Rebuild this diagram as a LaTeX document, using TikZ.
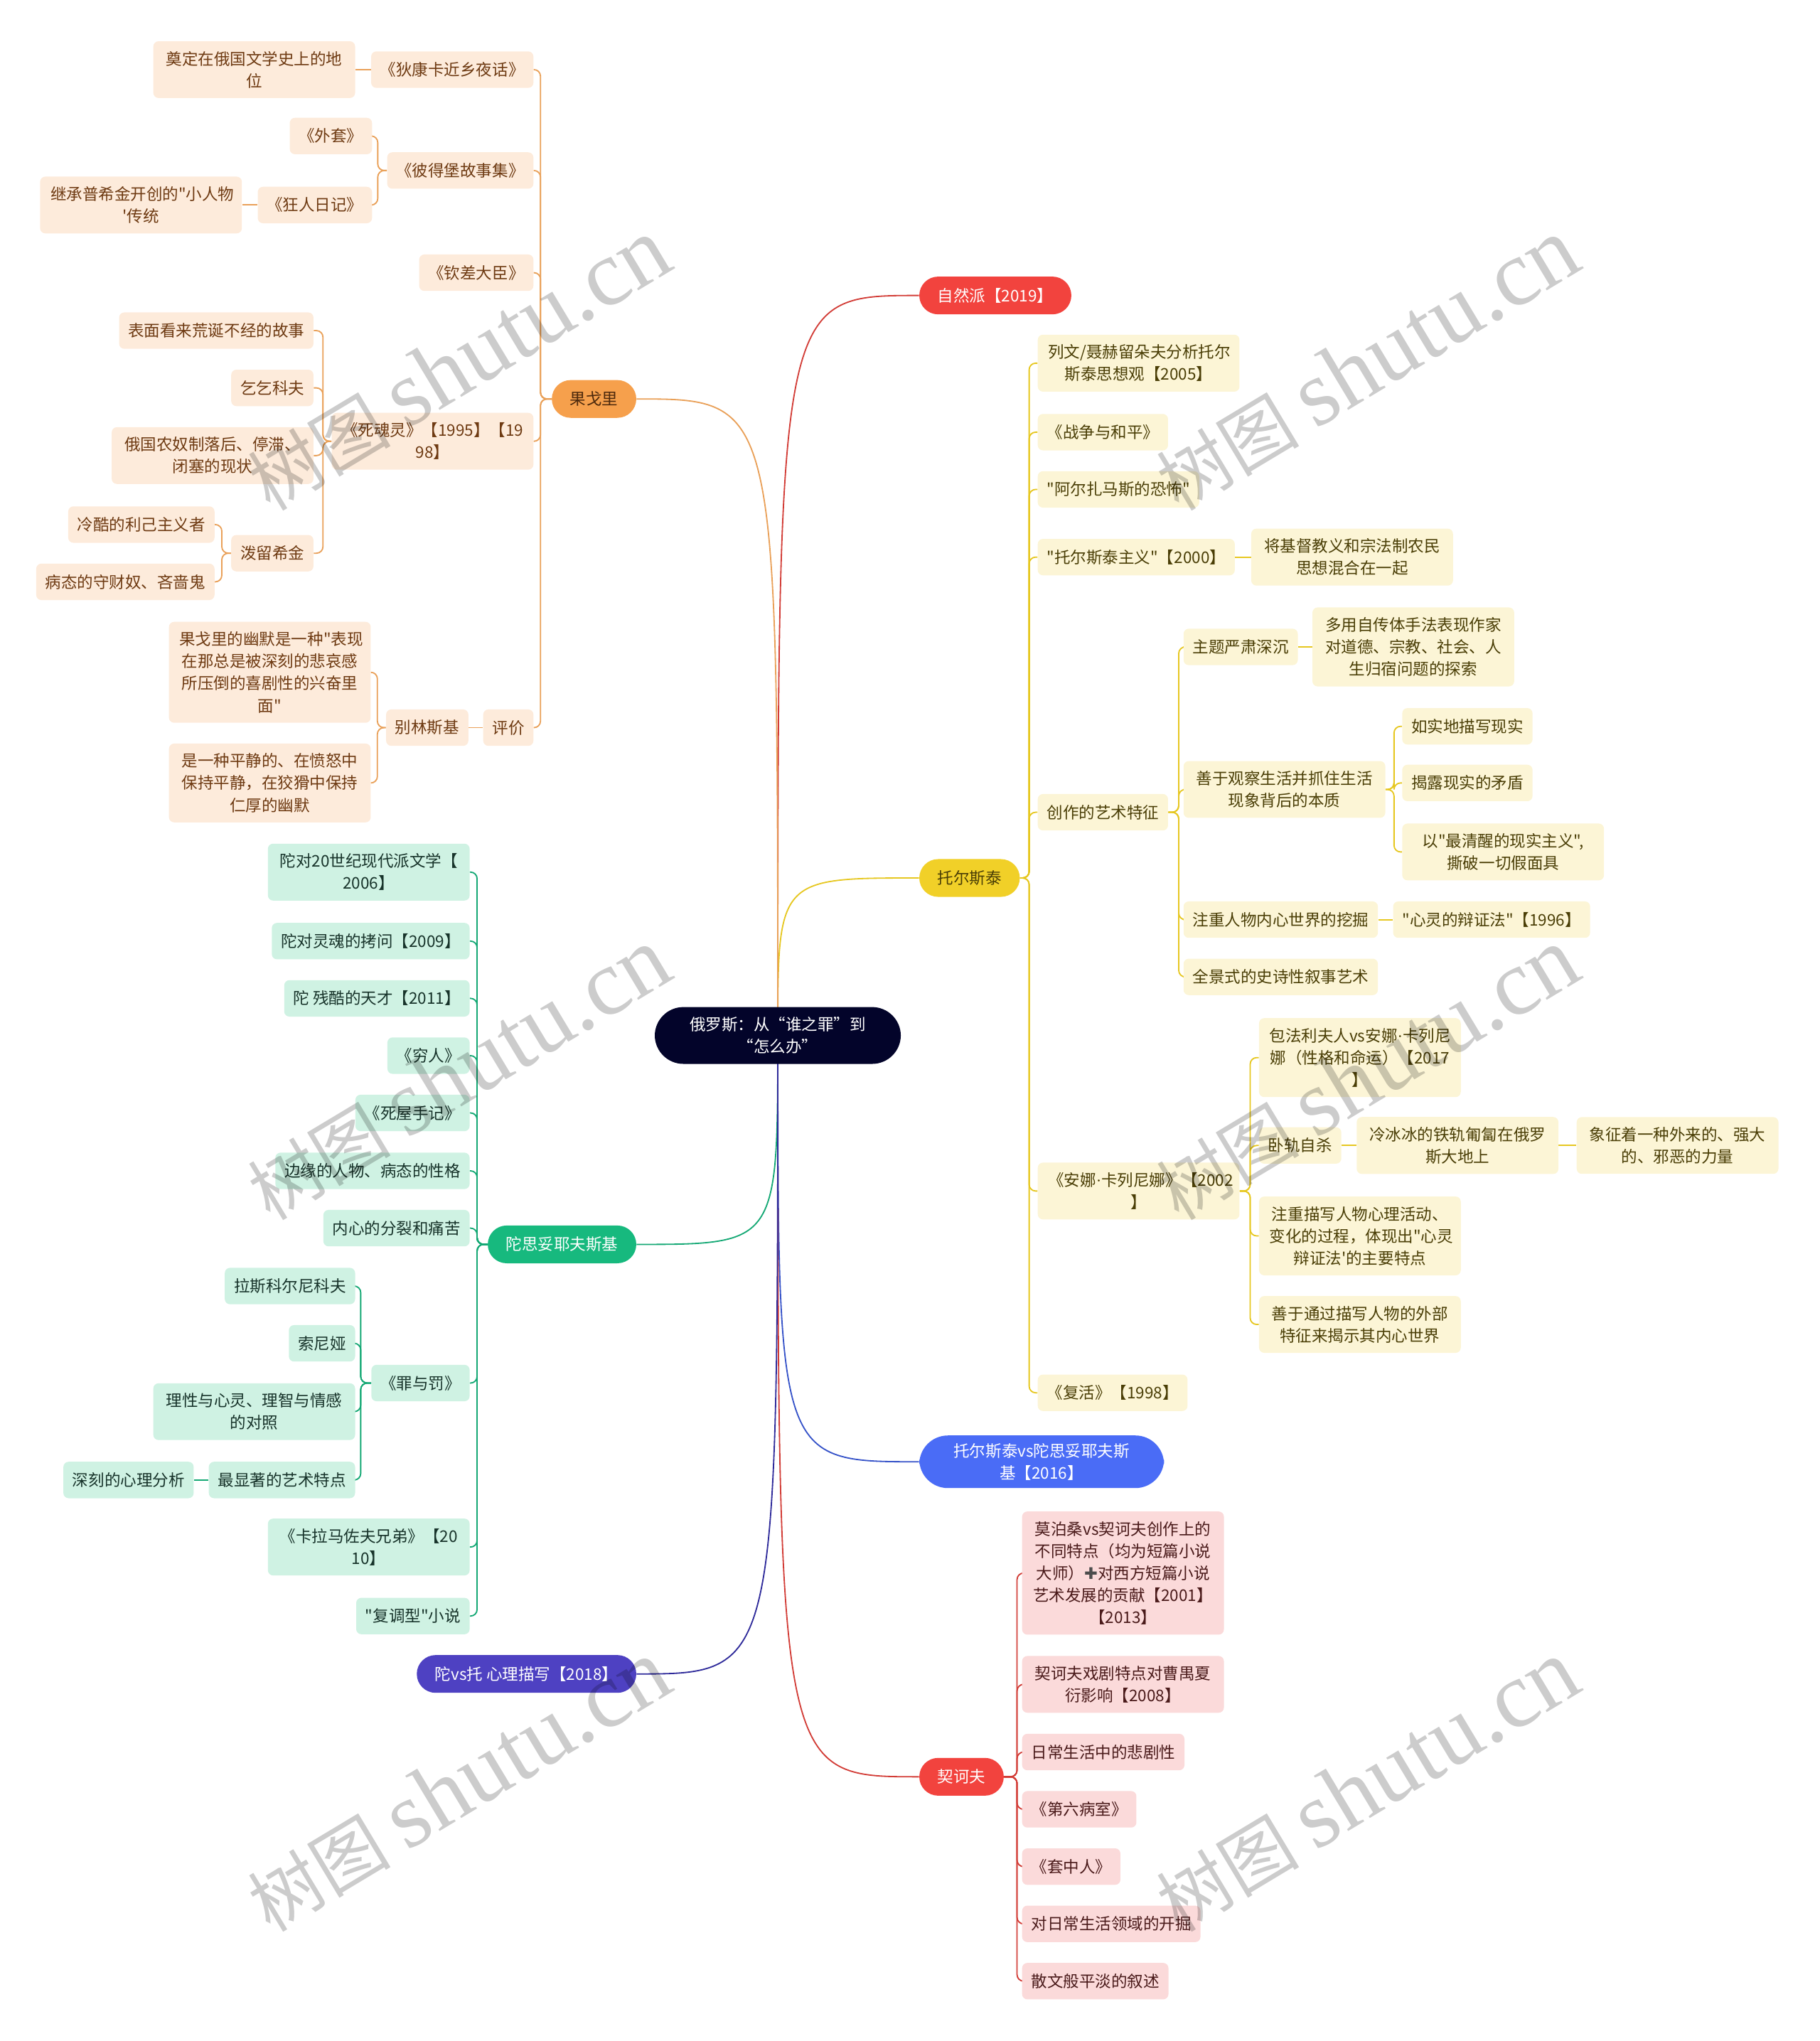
\documentclass[tikz,border=0pt]{standalone}
\usepackage{fontspec}
\usepackage{xcolor}
\usepackage{tikz}
\newfontfamily\cjk{Noto Sans CJK SC}[Ligatures=TeXOff]
\newfontfamily\wmser{Liberation Serif}
\newfontfamily\dejavu{DejaVu Sans}

\definecolor{rootc}{HTML}{03042A}
\definecolor{redp}{HTML}{F2433E}
\definecolor{yelp}{HTML}{F1D028}
\definecolor{bluep}{HTML}{4A6CF6}
\definecolor{orap}{HTML}{F6A04C}
\definecolor{grnp}{HTML}{17B97E}
\definecolor{purp}{HTML}{4E41C2}
\definecolor{orafill}{HTML}{FDEBDB}
\definecolor{grnfill}{HTML}{CFF2E3}
\definecolor{yelfill}{HTML}{FCF5D6}
\definecolor{redfill}{HTML}{FBDADA}
\definecolor{oraline}{HTML}{E9A058}
\definecolor{grnline}{HTML}{14A874}
\definecolor{yelline}{HTML}{E6C720}
\definecolor{redline}{HTML}{D23C36}
\definecolor{blueline}{HTML}{3552C8}
\definecolor{purline}{HTML}{2E2A9A}
\definecolor{oratext}{HTML}{6E3A12}
\definecolor{grntext}{HTML}{17332A}
\definecolor{yeltext}{HTML}{4A3E06}
\definecolor{redtext}{HTML}{4A1A1A}

\pgfdeclarelayer{bg}
\pgfsetlayers{bg,main}

\begin{document}
\begin{tikzpicture}[x=1pt,y=-1pt,
  every node/.style={font=\cjk\fontsize{12.3pt}{17pt}\selectfont},
  pill/.style={rounded corners=14.5pt,minimum height=29pt,inner xsep=14pt,inner ysep=6pt},
  leaf/.style={rounded corners=4pt,minimum height=28pt,inner xsep=7pt,inner ysep=7.6pt,align=center},
  wrap/.style={leaf,text width=139pt,inner xsep=8pt},
  gog/.style={fill=orafill,text=oratext},
  dos/.style={fill=grnfill,text=grntext},
  tol/.style={fill=yelfill,text=yeltext},
  che/.style={fill=redfill,text=redtext},
  ln/.style={line width=1pt,rounded corners=5pt},
  wm/.style={rotate=31,text=black,text opacity=0.2,font=\cjk\fontsize{55pt}{60pt}\selectfont}]
\useasboundingbox (0,0) rectangle (1398,1568);

% centre and main branches
\node[fill=rootc,text=white,rounded corners=22pt,text width=137pt,align=center,inner xsep=26pt,inner ysep=7.6pt] (root) at (597.5,795.5) {俄罗斯：从“谁之罪”到\\“怎么办”};
\node[pill,fill=redp,text=white,anchor=west] (natur) at (706,227) {自然派【2019】};
\node[pill,fill=yelp,text=yeltext,anchor=west] (tolst) at (706,674.5) {托尔斯泰};
\node[pill,fill=bluep,text=white,anchor=west,rounded corners=22pt,text width=137pt,align=center,inner xsep=25.5pt] (tvd) at (706,1123) {托尔斯泰vs陀思妥耶夫斯\\基【2016】};
\node[pill,fill=redp,text=white,anchor=west] (chekh) at (706,1365) {契诃夫};
\node[pill,fill=orap,text=oratext!70!black,anchor=east] (gogol) at (489,306.5) {果戈里};
\node[pill,fill=grnp,text=white,anchor=east] (dost) at (489,956) {陀思妥耶夫斯基};
\node[pill,fill=purp,text=white,anchor=east] (dvt) at (489,1286) {陀vs托 心理描写【2018】};

% Gogol
\node[leaf,gog,anchor=east] (dikan) at (410,53.5) {《狄康卡近乡夜话》};
\node[wrap,gog,anchor=east] (dianding) at (273,53.5) {奠定在俄国文学史上的地\\位};
\node[leaf,gog,anchor=east] (peter) at (410,131) {《彼得堡故事集》};
\node[leaf,gog,anchor=east] (waitao) at (286,104.5) {《外套》};
\node[leaf,gog,anchor=east] (kuangren) at (286,157.5) {《狂人日记》};
\node[wrap,gog,anchor=east] (jicheng) at (186,157.5) {继承普希金开创的"小人物\\'传统};
\node[leaf,gog,anchor=east] (qinchai) at (410,209.5) {《钦差大臣》};
\node[wrap,gog,anchor=east] (sihun) at (410,339) {《死魂灵》【1995】【19\\98】};
\node[leaf,gog,anchor=east] (biaomian) at (241,254) {表面看来荒诞不经的故事};
\node[leaf,gog,anchor=east] (qiqi) at (241,298) {乞乞科夫};
\node[wrap,gog,anchor=east] (nongnu) at (241,350) {俄国农奴制落后、停滞、\\闭塞的现状};
\node[leaf,gog,anchor=east] (polu) at (241,425) {泼留希金};
\node[leaf,gog,anchor=east] (lengku) at (165,403) {冷酷的利己主义者};
\node[leaf,gog,anchor=east] (bingtai) at (165,447) {病态的守财奴、吝啬鬼};
\node[leaf,gog,anchor=east] (pingjia) at (410,559) {评价};
\node[leaf,gog,anchor=east] (belinsky) at (360,559) {别林斯基};
\node[wrap,gog,anchor=east] (humor1) at (285,516.5) {果戈里的幽默是一种"表现\\在那总是被深刻的悲哀感\\所压倒的喜剧性的兴奋里\\面"};
\node[wrap,gog,anchor=east] (humor2) at (285,601.5) {是一种平静的、在愤怒中\\保持平静，在狡猾中保持\\仁厚的幽默};

% Dostoevsky
\node[wrap,dos,anchor=east] (d20) at (361,670) {陀对20世纪现代派文学【\\2006】};
\node[leaf,dos,anchor=east] (dlinghun) at (361,723) {陀对灵魂的拷问【2009】};
\node[leaf,dos,anchor=east] (dcanku) at (361,767) {陀 残酷的天才【2011】};
\node[leaf,dos,anchor=east] (qiongren) at (361,811) {《穷人》};
\node[leaf,dos,anchor=east] (siwu) at (361,855) {《死屋手记》};
\node[leaf,dos,anchor=east] (bianyuan) at (361,899.5) {边缘的人物、病态的性格};
\node[leaf,dos,anchor=east] (neixin) at (361,943.5) {内心的分裂和痛苦};
\node[leaf,dos,anchor=east] (zuifa) at (361,1062.5) {《罪与罚》};
\node[leaf,dos,anchor=east] (lasi) at (273,988) {拉斯科尔尼科夫};
\node[leaf,dos,anchor=east] (suoni) at (273,1032) {索尼娅};
\node[wrap,dos,anchor=east] (lixing) at (273,1084.5) {理性与心灵、理智与情感\\的对照};
\node[leaf,dos,anchor=east] (xianzhu) at (273,1137) {最显著的艺术特点};
\node[leaf,dos,anchor=east] (shenke) at (149,1137) {深刻的心理分析};
\node[wrap,dos,anchor=east] (karama) at (361,1188.5) {《卡拉马佐夫兄弟》【20\\10】};
\node[leaf,dos,anchor=east] (fudiao) at (361,1241.5) {"复调型"小说};

% Tolstoy
\node[wrap,tol,anchor=west] (liewen) at (797,279) {列文/聂赫留朵夫分析托尔\\斯泰思想观【2005】};
\node[leaf,tol,anchor=west] (zhanzheng) at (797,332) {《战争与和平》};
\node[leaf,tol,anchor=west] (azhama) at (797,376) {"阿尔扎马斯的恐怖"};
\node[leaf,tol,anchor=west] (tzhuyi) at (797,428) {"托尔斯泰主义"【2000】};
\node[wrap,tol,anchor=west] (jidu) at (961,428) {将基督教义和宗法制农民\\思想混合在一起};
\node[leaf,tol,anchor=west] (yishu) at (797,624) {创作的艺术特征};
\node[leaf,tol,anchor=west] (zhuti) at (909,497) {主题严肃深沉};
\node[wrap,tol,anchor=west] (duoyong) at (1008,497) {多用自传体手法表现作家\\对道德、宗教、社会、人\\生归宿问题的探索};
\node[wrap,tol,anchor=west] (shanyu) at (909,606.5) {善于观察生活并抓住生活\\现象背后的本质};
\node[leaf,tol,anchor=west] (rushi) at (1077,558) {如实地描写现实};
\node[leaf,tol,anchor=west] (jielu) at (1077,601.5) {揭露现实的矛盾};
\node[wrap,tol,anchor=west] (yizui) at (1077,654.5) {以"最清醒的现实主义",\\撕破一切假面具};
\node[leaf,tol,anchor=west] (zhuzhong) at (909,706.5) {注重人物内心世界的挖掘};
\node[leaf,tol,anchor=west] (xinling) at (1070,706.5) {"心灵的辩证法"【1996】};
\node[leaf,tol,anchor=west] (quanjing) at (909,750.5) {全景式的史诗性叙事艺术};
\node[wrap,tol,anchor=west] (anna) at (797,915) {《安娜{\wmser·}卡列尼娜》【2002\\】};
\node[wrap,tol,anchor=west] (baofa) at (967,812.5) {包法利夫人vs安娜{\wmser·}卡列尼\\娜（性格和命运）【2017\\】};
\node[leaf,tol,anchor=west] (woqui) at (967,880) {卧轨自杀};
\node[wrap,tol,anchor=west] (lengbing) at (1042,880) {冷冰冰的铁轨匍匐在俄罗\\斯大地上};
\node[wrap,tol,anchor=west] (xiangzheng) at (1211,880) {象征着一种外来的、强大\\的、邪恶的力量};
\node[wrap,tol,anchor=west] (zhuzhongmx) at (967,949.5) {注重描写人物心理活动、\\变化的过程，体现出"心灵\\辩证法'的主要特点};
\node[wrap,tol,anchor=west] (shanyutong) at (967,1017.5) {善于通过描写人物的外部\\特征来揭示其内心世界};
\node[leaf,tol,anchor=west] (fuhuo) at (797,1070) {《复活》【1998】};

% Chekhov
\node[wrap,che,anchor=west] (mobo) at (785,1208.5) {莫泊桑vs契诃夫创作上的\\不同特点（均为短篇小说\\大师）{\dejavu\textcolor{gray!60!black}{✚}}对西方短篇小说\\艺术发展的贡献【2001】\\【2013】};
\node[wrap,che,anchor=west] (xiju) at (785,1294) {契诃夫戏剧特点对曹禺夏\\衍影响【2008】};
\node[leaf,che,anchor=west] (richang) at (785,1346) {日常生活中的悲剧性};
\node[leaf,che,anchor=west] (diliu) at (785,1390) {《第六病室》};
\node[leaf,che,anchor=west] (taozhong) at (785,1434) {《套中人》};
\node[leaf,che,anchor=west] (kaijue) at (785,1478) {对日常生活领域的开掘};
\node[leaf,che,anchor=west] (sanwen) at (785,1522) {散文般平淡的叙述};

\begin{pgfonlayer}{bg}
% curves from the centre
\draw[line width=1pt,redline] (root.center) .. controls (root.center |- natur.west) .. (natur.west);
\draw[line width=1pt,yelline] (root.center) .. controls (root.center |- tolst.west) .. (tolst.west);
\draw[line width=1pt,blueline] (root.center) .. controls (root.center |- tvd.west) .. (tvd.west);
\draw[line width=1pt,redline] (root.center) .. controls (root.center |- chekh.west) .. (chekh.west);
\draw[line width=1pt,oraline] (root.center) .. controls (root.center |- gogol.east) .. (gogol.east);
\draw[line width=1pt,grnline] (root.center) .. controls (root.center |- dost.east) .. (dost.east);
\draw[line width=1pt,purline] (root.center) .. controls (root.center |- dvt.east) .. (dvt.east);

% Gogol
\foreach \c in {dikan,peter,qinchai,sihun,pingjia}
  \draw[ln,oraline] (gogol.west) -- ++(-8.5,0) |- (\c.east);
\draw[ln,oraline] (dikan.west) -- (dianding.east);
\foreach \c in {waitao,kuangren}
  \draw[ln,oraline] (peter.west) -- ++(-7,0) |- (\c.east);
\draw[ln,oraline] (kuangren.west) -- (jicheng.east);
\foreach \c in {biaomian,qiqi,nongnu,polu}
  \draw[ln,oraline] (sihun.west) -- ++(-6.5,0) |- (\c.east);
\foreach \c in {lengku,bingtai}
  \draw[ln,oraline] (polu.west) -- ++(-7,0) |- (\c.east);
\draw[ln,oraline] (pingjia.west) -- (belinsky.east);
\foreach \c in {humor1,humor2}
  \draw[ln,oraline] (belinsky.west) -- ++(-6.5,0) |- (\c.east);

% Dostoevsky
\foreach \c in {d20,dlinghun,dcanku,qiongren,siwu,bianyuan,neixin,zuifa,karama,fudiao}
  \draw[ln,grnline] (dost.west) -- ++(-8,0) |- (\c.east);
\foreach \c in {lasi,suoni,lixing,xianzhu}
  \draw[ln,grnline] (zuifa.west) -- ++(-8,0) |- (\c.east);
\draw[ln,grnline] (xianzhu.west) -- (shenke.east);

% Tolstoy
\foreach \c in {liewen,zhanzheng,azhama,tzhuyi,yishu,anna,fuhuo}
  \draw[ln,yelline] (tolst.east) -- ++(7,0) |- (\c.west);
\draw[ln,yelline] (tzhuyi.east) -- (jidu.west);
\foreach \c in {zhuti,shanyu,zhuzhong,quanjing}
  \draw[ln,yelline] (yishu.east) -- ++(8,0) |- (\c.west);
\draw[ln,yelline] (zhuti.east) -- (duoyong.west);
\foreach \c in {rushi,jielu,yizui}
  \draw[ln,yelline] (shanyu.east) -- ++(6.5,0) |- (\c.west);
\draw[ln,yelline] (zhuzhong.east) -- (xinling.west);
\foreach \c in {baofa,woqui,zhuzhongmx,shanyutong}
  \draw[ln,yelline] (anna.east) -- ++(8,0) |- (\c.west);
\draw[ln,yelline] (woqui.east) -- (lengbing.west);
\draw[ln,yelline] (lengbing.east) -- (xiangzheng.west);

% Chekhov
\foreach \c in {mobo,xiju,richang,diliu,taozhong,kaijue,sanwen}
  \draw[ln,redline] (chekh.east) -- ++(10,0) |- (\c.west);
\end{pgfonlayer}

% watermarks
\node[wm] (wm1) at (352,280) {树图 {\wmser\fontsize{72pt}{72pt}\selectfont shutu.cn}};
\node[wm] (wm2) at (1050,280) {树图 {\wmser\fontsize{72pt}{72pt}\selectfont shutu.cn}};
\node[wm] (wm3) at (352,825) {树图 {\wmser\fontsize{72pt}{72pt}\selectfont shutu.cn}};
\node[wm] (wm4) at (1050,825) {树图 {\wmser\fontsize{72pt}{72pt}\selectfont shutu.cn}};
\node[wm] (wm5) at (352,1372) {树图 {\wmser\fontsize{72pt}{72pt}\selectfont shutu.cn}};
\node[wm] (wm6) at (1050,1372) {树图 {\wmser\fontsize{72pt}{72pt}\selectfont shutu.cn}};
\end{tikzpicture}
\end{document}
